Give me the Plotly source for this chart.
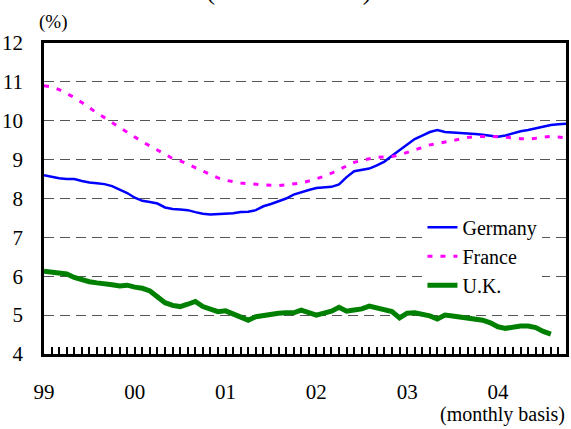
import plotly.graph_objects as go

months = list(range(70))
year_ticks = [0, 12, 24, 36, 48, 60]
year_labels = ["99", "00", "01", "02", "03", "04"]

germany = [8.6, 8.56, 8.52, 8.5, 8.5, 8.45, 8.41, 8.39, 8.37, 8.32, 8.24, 8.14,
           8.02, 7.94, 7.91, 7.87, 7.77, 7.73, 7.72, 7.7, 7.65, 7.61, 7.59, 7.6,
           7.61, 7.62, 7.65, 7.66, 7.7, 7.8, 7.86, 7.92, 8.0, 8.1, 8.17, 8.22,
           8.27, 8.28, 8.3, 8.36, 8.55, 8.7, 8.73, 8.77, 8.85, 8.95, 9.1, 9.25,
           9.38, 9.53, 9.62, 9.71, 9.76, 9.71, 9.7, 9.69, 9.68, 9.66, 9.64, 9.61,
           9.59, 9.62, 9.68, 9.73, 9.76, 9.8, 9.85, 9.89, 9.91, 9.92]

france = [10.9, 10.87, 10.8, 10.7, 10.6, 10.47, 10.33, 10.2, 10.08, 9.95, 9.82, 9.7,
          9.58, 9.46, 9.35, 9.23, 9.12, 9.03, 8.97, 8.88, 8.8, 8.7, 8.62, 8.53,
          8.47, 8.43, 8.4, 8.38, 8.37, 8.36, 8.35, 8.33, 8.35, 8.38, 8.4, 8.45,
          8.5, 8.57, 8.65, 8.75, 8.85, 8.93, 8.98, 9.03, 9.06, 9.07, 9.08, 9.12,
          9.18, 9.25, 9.32, 9.38, 9.41, 9.45, 9.5, 9.54, 9.57, 9.59, 9.6, 9.6,
          9.59, 9.58, 9.56, 9.54, 9.53, 9.55, 9.57, 9.6, 9.58, 9.56]

uk = [6.13, 6.11, 6.09, 6.06, 5.97, 5.9, 5.86, 5.83, 5.79, 5.78, 5.75, 5.77,
      5.72, 5.69, 5.62, 5.48, 5.32, 5.25, 5.22, 5.28, 5.35, 5.22, 5.15, 5.09,
      5.11, 5.03, 4.95, 4.87, 4.96, 5.0, 5.03, 5.05, 5.06, 5.06, 5.13, 5.06,
      5.0, 5.05, 5.1, 5.2, 5.1, 5.13, 5.16, 5.23, 5.18, 5.14, 5.09, 4.93,
      5.05, 5.06, 5.03, 4.98, 4.9, 5.0, 4.98, 4.96, 4.92, 4.9, 4.87, 4.8,
      4.7, 4.66, 4.7, 4.72, 4.72, 4.68, 4.58, 4.51]

FONT = "'Liberation Serif', 'DejaVu Serif', serif"

fig = go.Figure()
fig.add_trace(go.Scatter(x=months, y=germany, mode="lines", name="Germany",
                         line=dict(color="#0000FF", width=2.5)))
fig.add_trace(go.Scatter(x=months, y=france, mode="lines", name="France",
                         line=dict(color="#FF00FF", width=3, dash="5px,8px")))
fig.add_trace(go.Scatter(x=months[:len(uk)], y=uk, mode="lines", name="U.K.",
                         line=dict(color="#008000", width=5)))

fig.update_layout(
    width=571, height=429,
    margin=dict(l=39, r=2, t=43, b=75),
    paper_bgcolor="white", plot_bgcolor="white",
    font=dict(family=FONT, size=20, color="black"),
    showlegend=True,
    legend=dict(x=0.725, y=0.47, xanchor="left", yanchor="top",
                bgcolor="white", borderwidth=0,
                font=dict(family=FONT, size=20, color="black"),
                tracegroupgap=0, itemwidth=30),
    xaxis=dict(range=[0, 69], tickvals=year_ticks, ticktext=year_labels,
               showgrid=False, zeroline=False,
               showline=True, linecolor="black", linewidth=2.5, mirror=True,
               ticks="inside", ticklen=7, tickwidth=2, tickcolor="black",
               ticklabelstandoff=17,
               minor=dict(dtick=1, tick0=0, ticks="inside", ticklen=7,
                          tickwidth=2, tickcolor="black", showgrid=False),
               tickfont=dict(family=FONT, size=21)),
    yaxis=dict(range=[4, 12], dtick=1, tick0=4,
               showgrid=True, gridcolor="#555555", gridwidth=1.2,
               griddash="10px,6px", zeroline=False,
               showline=True, linecolor="black", linewidth=2.5, mirror=True,
               ticks="", ticklabelstandoff=14,
               tickfont=dict(family=FONT, size=21)),
    annotations=[
        dict(text="(ILO Standard)", xref="paper", yref="paper",
             x=0.47, y=1, yshift=36, xanchor="center", yanchor="bottom",
             showarrow=False, font=dict(family=FONT, size=27)),
        dict(text="(%)", xref="paper", yref="paper", x=0, y=1, xshift=-7, yshift=8,
             xanchor="left", yanchor="bottom", showarrow=False,
             font=dict(family=FONT, size=19)),
        dict(text="(monthly basis)", xref="paper", yref="paper", x=1, y=0,
             xshift=1, yshift=-74, xanchor="right", yanchor="bottom",
             showarrow=False, font=dict(family=FONT, size=20)),
    ],
)

fig.write_html("out.html")
